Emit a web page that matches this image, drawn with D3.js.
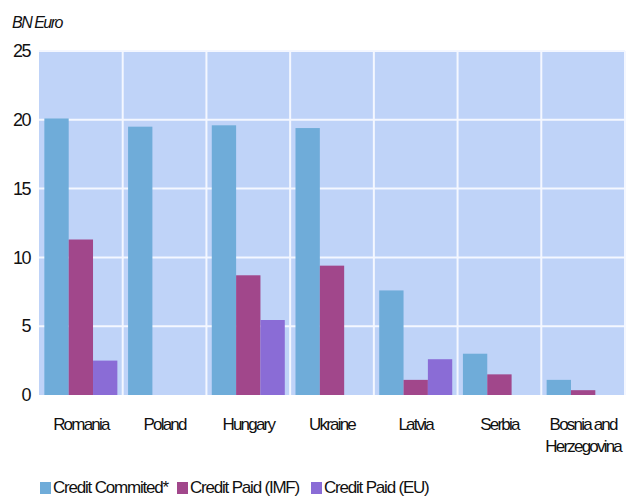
<!DOCTYPE html>
<html>
<head>
<meta charset="utf-8" />
<title>Credit</title>
<style>
  body { margin: 0; background: #fff; }
  text { font-family: "Liberation Sans", Arial, sans-serif; fill: #111; }
  .tick-lbl { font-size: 18px; letter-spacing: -1.5px; }
  .cat-lbl { font-size: 17px; letter-spacing: -1.8px; }
  .leg-lbl { font-size: 17px; letter-spacing: -1.2px; }
</style>
</head>
<body>
<svg id="chart" width="626" height="497"></svg>
<script src="https://d3js.org/d3.v7.min.js"></script>
<script>
// data
const categories = ["Romania", "Poland", "Hungary", "Ukraine", "Latvia", "Serbia", "Bosnia and Herzegovina"];
const seriesNames = ["Credit Commited*", "Credit Paid (IMF)", "Credit Paid (EU)"];
const committed = [20.1, 19.5, 19.6, 19.4, 7.6, 3.0, 1.1];
const paidIMF   = [11.3, 0, 8.7, 9.4, 1.1, 1.5, 0.35];
const paidEU    = [2.5, 0, 5.45, 0, 2.6, 0, 0];
const yTicks = [0, 5, 10, 15, 20, 25];

const colors = ["#6facd9", "#a1478b", "#8a6cd6"];
const allSeries = [committed, paidIMF, paidEU];

const svg = d3.select("#chart");
const plotL = 39, plotR = 625, plotT = 51, plotB = 395;

const x0 = d3.scaleBand().domain(categories).range([plotL, plotR]).padding(0);
const x1 = d3.scaleBand().domain(d3.range(3)).range([0, x0.bandwidth()]).paddingInner(0).paddingOuter(0.22);
const y = d3.scaleLinear().domain([0, 25]).range([plotB, plotT]);

// plot background
svg.append("rect")
  .attr("x", plotL).attr("y", plotT)
  .attr("width", plotR - plotL).attr("height", plotB - plotT)
  .attr("fill", "#bfd3f8");

// gridlines
svg.append("g").selectAll("line")
  .data(yTicks.filter(d => d > 0))
  .join("line")
  .attr("x1", plotL).attr("x2", plotR)
  .attr("y1", d => y(d)).attr("y2", d => y(d))
  .attr("stroke", "#f4f7ff").attr("stroke-width", 2);

svg.append("g").selectAll("line")
  .data(categories.slice(1).concat(["__end"]))
  .join("line")
  .attr("x1", d => d === "__end" ? plotR : x0(d))
  .attr("x2", d => d === "__end" ? plotR : x0(d))
  .attr("y1", plotT).attr("y2", plotB)
  .attr("stroke", "#f4f7ff").attr("stroke-width", 2);

// bars
const groups = svg.append("g").selectAll("g")
  .data(categories)
  .join("g")
  .attr("transform", d => `translate(${x0(d)},0)`);

groups.selectAll("rect")
  .data((c, ci) => allSeries.map((s, si) => ({ si, v: s[ci] })))
  .join("rect")
  .attr("x", d => x1(d.si))
  .attr("width", x1.bandwidth())
  .attr("y", d => y(d.v))
  .attr("height", d => y(0) - y(d.v))
  .attr("fill", d => colors[d.si]);

// y axis labels
const yAxis = d3.axisLeft(y).tickValues(yTicks).tickSize(0).tickPadding(9);
const yg = svg.append("g").attr("transform", `translate(${plotL},0)`).call(yAxis);
yg.select(".domain").remove();
yg.attr("font-family", null).attr("font-size", null);
yg.selectAll("text").attr("class", "tick-lbl").attr("fill", "#111");

// x axis labels
const xAxis = d3.axisBottom(x0).tickSize(0).tickPadding(0).tickFormat("");
const xg = svg.append("g").attr("transform", `translate(0,${plotB})`).call(xAxis);
xg.select(".domain").remove();
xg.attr("font-family", null).attr("font-size", null);
xg.selectAll(".tick").each(function(d) {
  const words = d === "Bosnia and Herzegovina" ? ["Bosnia and", "Herzegovina"] : [d];
  const t = d3.select(this).append("text")
    .attr("class", "cat-lbl")
    .attr("text-anchor", "middle");
  words.forEach((w, i) => {
    t.append("tspan").attr("x", 0).attr("y", 35 + i * 21.5).text(w);
  });
});

// axis title
svg.append("text")
  .attr("x", 12).attr("y", 28)
  .attr("font-size", 16)
  .attr("font-style", "italic")
  .attr("letter-spacing", "-1.5px")
  .text("BN Euro");

// legend
const legendX = [40, 177, 311];
const lg = svg.append("g").selectAll("g")
  .data(seriesNames)
  .join("g")
  .attr("transform", (d, i) => `translate(${legendX[i]},482)`);
lg.append("rect").attr("width", 11).attr("height", 12).attr("fill", (d, i) => colors[i]);
lg.append("text").attr("class", "leg-lbl").attr("x", 13).attr("y", 11).text(d => d);
</script>
</body>
</html>
